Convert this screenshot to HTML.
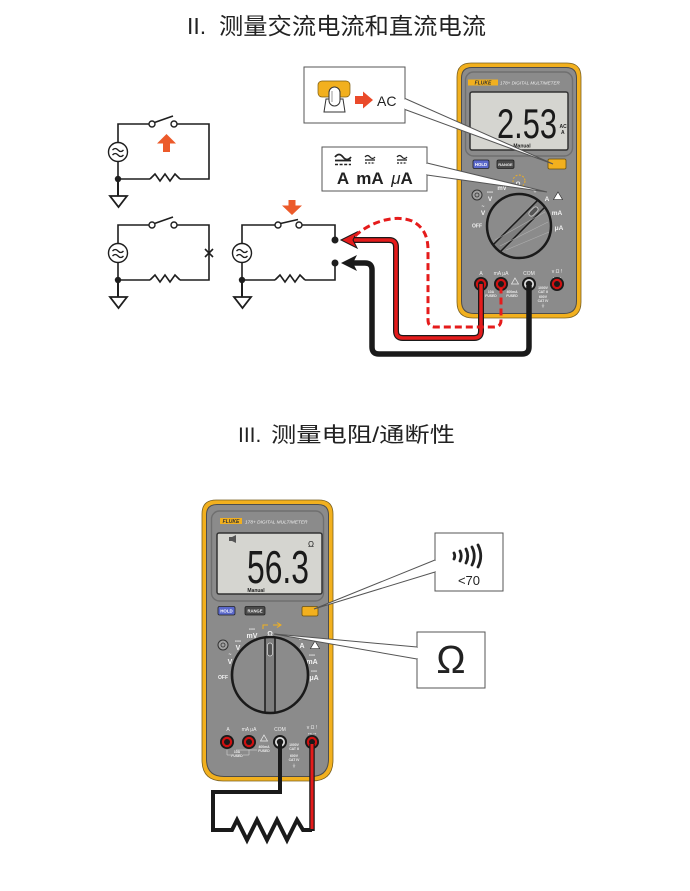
<!DOCTYPE html>
<html><head><meta charset="utf-8">
<style>
html,body{margin:0;padding:0;background:#fff;}
svg{display:block;}
text{font-family:"Liberation Sans","Noto Sans CJK SC",sans-serif;}
</style></head><body>
<svg width="690" height="891" viewBox="0 0 690 891" xmlns="http://www.w3.org/2000/svg">
<rect width="690" height="891" fill="#fff"/>

<!-- ============ TITLES ============ -->
<text x="187" y="34" font-size="23" fill="#222">II.</text>
<text x="219" y="34" font-size="23" fill="#222" textLength="267" lengthAdjust="spacingAndGlyphs">测量交流电流和直流电流</text>
<text x="238" y="442" font-size="21" fill="#222">III.</text>
<text x="271" y="442" font-size="21" fill="#222" textLength="184" lengthAdjust="spacingAndGlyphs">测量电阻/通断性</text>

<!-- ============ CIRCUITS ============ -->
<g fill="none" stroke="#1e1e1e" stroke-width="1.6" stroke-linejoin="miter">
  <!-- circuit 1 -->
  <path d="M118,142.5 V124 H149 M177,124 H209 V179 H180 M150,179 H118 V161.5"/>
  <path d="M150,179 l5,-5 l5,7 l5,-7 l5,7 l5,-7 l5,5"/>
  <path d="M154.5,122.5 L173,116"/>
  <path d="M118,179 V196" stroke-width="2"/>
  <!-- circuit 2 -->
  <path d="M118,243.5 V225 H149 M177,225 H209 V280 H180 M150,280 H118 V262.5"/>
  <path d="M150,280 l5,-5 l5,7 l5,-7 l5,7 l5,-7 l5,5"/>
  <path d="M154.5,223.5 L173,217"/>
  <path d="M205,249 L213,257 M205,257 L213,249"/>
  <path d="M118,280 V297" stroke-width="2"/>
  <!-- circuit 3 -->
  <path d="M242,243.5 V225 H275 M302,225 H335 V240 M335,263 V280 H305 M275,280 H242 V262.5"/>
  <path d="M275,280 l5,-5 l5,7 l5,-7 l5,7 l5,-7 l5,5"/>
  <path d="M280.5,223.5 L298,219.5"/>
  <path d="M242,280 V297" stroke-width="2"/>
</g>
<g fill="#fff" stroke="#1e1e1e" stroke-width="1.4">
  <circle cx="152" cy="124" r="3"/><circle cx="174" cy="124" r="3"/>
  <circle cx="152" cy="225" r="3"/><circle cx="174" cy="225" r="3"/>
  <circle cx="278" cy="225" r="3"/><circle cx="299" cy="225" r="3"/>
  <circle cx="118" cy="152" r="9.5"/>
  <circle cx="118" cy="253" r="9.5"/>
  <circle cx="242" cy="253" r="9.5"/>
  <polygon points="110,196 127,196 118.5,207" stroke-width="1.8"/>
  <polygon points="110,297 127,297 118.5,308" stroke-width="1.8"/>
  <polygon points="234,297 251,297 242.5,308" stroke-width="1.8"/>
</g>
<g fill="none" stroke="#1e1e1e" stroke-width="1.3">
  <path d="M112.5,150 q2.75,-3 5.5,0 t5.5,0 M112.5,155 q2.75,-3 5.5,0 t5.5,0"/>
  <path d="M112.5,251 q2.75,-3 5.5,0 t5.5,0 M112.5,256 q2.75,-3 5.5,0 t5.5,0"/>
  <path d="M236.5,251 q2.75,-3 5.5,0 t5.5,0 M236.5,256 q2.75,-3 5.5,0 t5.5,0"/>
</g>
<g fill="#1e1e1e">
  <circle cx="118" cy="179" r="3.2"/>
  <circle cx="118" cy="280" r="3.2"/>
  <circle cx="242" cy="280" r="3.2"/>
  <circle cx="335" cy="240" r="3.5"/>
  <circle cx="335" cy="263" r="3.5"/>
</g>
<polygon points="166.5,134 176,143.5 170,143.5 170,152 163,152 163,143.5 157,143.5" fill="#ec5a2a"/>
<polygon points="292,215 302,205.5 295.5,205.5 295.5,200 288.5,200 288.5,205.5 282,205.5" fill="#ec5a2a"/>

<!-- ============ TOP METER ============ -->
<path d="M471,63 H567 Q581,63 581,77 V302 Q581,318 565,318 H473 Q457,318 457,302 V77 Q457,63 471,63 Z" fill="#f2b01e" stroke="#7a6020" stroke-width="0.8"/>
<path d="M472,67.5 H566 Q576.5,67.5 576.5,78 V301 Q576.5,313.5 564,313.5 H474 Q461.5,313.5 461.5,301 V78 Q461.5,67.5 472,67.5 Z" fill="#8b8b8b" stroke="#4d4d4d" stroke-width="1"/>
<rect x="465.5" y="72" width="107" height="84" rx="8" fill="none" stroke="#6f6f6f" stroke-width="1.4"/>
<rect x="468" y="79.5" width="30" height="6" fill="#f2b01e"/>
<text x="483" y="84.5" font-size="5" font-weight="bold" fill="#333" text-anchor="middle" font-style="italic">FLUKE</text>
<text x="500" y="84.5" font-size="4.6" fill="#eeeeee" font-style="italic">178+ DIGITAL MULTIMETER</text>
<rect x="470" y="92" width="98" height="58" rx="2" fill="#d5d5d0" stroke="#333" stroke-width="1.5"/>
<text x="497" y="138" font-size="42" fill="#1a1a1a" textLength="60" lengthAdjust="spacingAndGlyphs">2.53</text>
<text x="559.5" y="128" font-size="5" font-weight="bold" fill="#222">AC</text>
<text x="561" y="134" font-size="5" font-weight="bold" fill="#222">A</text>
<text x="522" y="147.5" font-size="5" font-weight="bold" fill="#222" text-anchor="middle">Manual</text>
<!-- buttons -->
<rect x="473" y="160" width="16" height="8.5" rx="1.5" fill="#5b69cc" stroke="#222" stroke-width="0.8"/>
<text x="481" y="166" font-size="4.3" font-weight="bold" fill="#fff" text-anchor="middle">HOLD</text>
<rect x="497" y="160" width="17" height="8.5" rx="1.5" fill="#4a4a4a" stroke="#222" stroke-width="0.8"/>
<text x="505.5" y="166" font-size="4" font-weight="bold" fill="#eee" text-anchor="middle">RANGE</text>
<rect x="548" y="159" width="18" height="10" rx="1.5" fill="#f2b01e" stroke="#6a5010" stroke-width="0.8"/>
<!-- dial labels -->
<circle cx="477" cy="195" r="5" fill="#a0a0a0" stroke="#333" stroke-width="1"/>
<circle cx="477" cy="195" r="2" fill="none" stroke="#333" stroke-width="0.8"/>
<g fill="#f2f2f2" font-weight="bold" text-anchor="middle">
  <text x="490" y="201" font-size="6.5">V</text>
  <text x="490" y="193" font-size="3.5">===</text>
  <text x="483" y="215" font-size="6.5">V</text>
  <text x="483" y="208" font-size="5">~</text>
  <text x="477" y="227.5" font-size="5">OFF</text>
  <text x="502" y="190" font-size="6">mV</text>
  <text x="518" y="186" font-size="6">Ω</text>
  <text x="535" y="193" font-size="6">+</text>
  <text x="547" y="201" font-size="6.5">A</text>
  <text x="557" y="215" font-size="6.5">mA</text>
  <text x="559" y="230" font-size="6.5">μA</text>
</g>
<circle cx="519" cy="181" r="6" fill="none" stroke="#f2b01e" stroke-width="0.9" stroke-dasharray="2,1.5"/>
<polygon points="558,192 562.5,199.5 553.5,199.5" fill="#fff" stroke="#222" stroke-width="0.6"/>
<!-- dial -->
<clipPath id="d1"><circle cx="519" cy="226" r="32"/></clipPath>
<circle cx="519" cy="226" r="32" fill="#8b8b8b"/>
<g clip-path="url(#d1)">
  <g transform="rotate(-45 519 226)">
    <rect x="485" y="221" width="68" height="10" fill="#7e7e7e" stroke="#1a1a1a" stroke-width="1.5"/>
    <rect x="534" y="223.5" width="11" height="5" rx="2.5" fill="#555" stroke="#ddd" stroke-width="0.7"/>
  </g>
  <path d="M495,240 L545,212 M500,246 L548,222 M506,250 L549,232" stroke="#bdbdbd" stroke-width="0.6" fill="none" opacity="0.7"/>
</g>
<circle cx="519" cy="226" r="32" fill="none" stroke="#1a1a1a" stroke-width="2.5"/>
<!-- jack labels -->
<g fill="#eee" font-size="5" text-anchor="middle">
  <text x="481" y="275">A</text>
  <text x="501" y="275">mA μA</text>
  <text x="529" y="275">COM</text>
  <text x="557" y="273">v Ω !</text>
  <text x="557" y="279" font-size="4">⊶ ⊸</text>
</g>
<g fill="#eee" font-size="3.4" font-weight="bold" text-anchor="middle">
  <text x="491" y="293">10A</text><text x="491" y="297">FUSED</text>
  <text x="512" y="293">400mA</text><text x="512" y="297">FUSED</text>
  <text x="543" y="289">1000V</text><text x="543" y="293">CAT II</text>
  <text x="543" y="298">600V</text><text x="543" y="302">CAT IV</text>
  <text x="543" y="307" font-size="4">⏚</text>
</g>
<polygon points="515,278 518.5,284 511.5,284" fill="none" stroke="#eee" stroke-width="0.7"/>
<!-- jacks -->
<circle cx="481" cy="284" r="7" fill="#1a1a1a"/><circle cx="481" cy="284" r="5.2" fill="#d01010"/><circle cx="481" cy="284" r="3" fill="#1a1a1a"/>
<circle cx="501" cy="284" r="7" fill="#1a1a1a"/><circle cx="501" cy="284" r="5.2" fill="#d01010"/><circle cx="501" cy="284" r="3" fill="#1a1a1a"/>
<circle cx="529" cy="284" r="7" fill="#1a1a1a"/><circle cx="529" cy="284" r="5" fill="#ddd"/><circle cx="529" cy="284" r="3.2" fill="#1a1a1a"/>
<circle cx="557" cy="284" r="7" fill="#1a1a1a"/><circle cx="557" cy="284" r="5.2" fill="#d01010"/><circle cx="557" cy="284" r="3" fill="#1a1a1a"/>

<!-- top wires -->
<path d="M481,284 V331 Q481,338 474,338 H403 Q396,338 396,331 V247 Q396,240 389,240 H352" fill="none" stroke="#1a1a1a" stroke-width="6"/>
<path d="M481,284 V331 Q481,338 474,338 H403 Q396,338 396,331 V247 Q396,240 389,240 H352" fill="none" stroke="#e51b1b" stroke-width="3.5"/>
<polygon points="341,240 357,232 353,240 357,248" fill="#e51b1b" stroke="#1a1a1a" stroke-width="1"/>
<path d="M529,286 V347 Q529,354 522,354 H379 Q372,354 372,347 V270 Q372,263 365,263 H352" fill="none" stroke="#1a1a1a" stroke-width="5.5"/>
<polygon points="341,263 357,255 353,263 357,271" fill="#1a1a1a"/>
<path d="M355,236 C370,222 395,214 412,221 C424,227 428,237 428,250 V320 Q428,327 435,327 H494 Q501,327 501,320 V288" fill="none" stroke="#e51b1b" stroke-width="3" stroke-dasharray="7,4"/>

<!-- top callouts -->
<rect x="304" y="67" width="101" height="56" fill="#fff" stroke="#555" stroke-width="1"/>
<polyline points="405,98.5 553,164 405,109.5" fill="#fff" stroke="#555" stroke-width="1"/>
<line x1="405" y1="99.5" x2="405" y2="108.5" stroke="#fff" stroke-width="2.5"/>
<rect x="318" y="81" width="32" height="16" rx="4" fill="#f2b01e" stroke="#7a5a10" stroke-width="0.7"/>
<path d="M324,112 L326,99 L343,99 L345,112 Z" fill="#fff" stroke="#333" stroke-width="1"/>
<rect x="329" y="87" width="11" height="19" rx="5.5" fill="#fff" stroke="#333" stroke-width="1"/>
<path d="M332,91 V102" stroke="#bbb" stroke-width="1.5"/>
<polygon points="355,96 363,96 363,91.5 373,100 363,108.5 363,104 355,104" fill="#ea4a2a"/>
<text x="377" y="106" font-size="14" fill="#222">AC</text>

<rect x="322" y="147" width="105" height="44" fill="#fff" stroke="#555" stroke-width="1"/>
<polyline points="427,163 547,192 427,175" fill="#fff" stroke="#555" stroke-width="1"/>
<line x1="427" y1="164" x2="427" y2="174" stroke="#fff" stroke-width="2.5"/>
<g fill="none" stroke="#222">
  <path d="M335,157 q4,-5 8,0 t8,0" stroke-width="1.8"/>
  <path d="M335,160.5 H351" stroke-width="1.8"/>
  <path d="M335,164.5 H351" stroke-width="1.6" stroke-dasharray="3,1.6"/>
  <path d="M365,157 q2.5,-3 5,0 t5,0" stroke-width="1.3"/>
  <path d="M365,160 H375" stroke-width="1.3"/>
  <path d="M365,163 H375" stroke-width="1.2" stroke-dasharray="2,1.3"/>
  <path d="M397,157 q2.5,-3 5,0 t5,0" stroke-width="1.3"/>
  <path d="M397,160 H407" stroke-width="1.3"/>
  <path d="M397,163 H407" stroke-width="1.2" stroke-dasharray="2,1.3"/>
</g>
<text x="343" y="184" font-size="17" font-weight="bold" fill="#222" text-anchor="middle">A</text>
<text x="370" y="184" font-size="17" font-weight="bold" fill="#222" text-anchor="middle">mA</text>
<text x="402" y="184" font-size="17" font-weight="bold" fill="#222" text-anchor="middle"><tspan font-style="italic" font-weight="normal">μ</tspan>A</text>

<!-- ============ BOTTOM METER ============ -->
<path d="M216,500 H319 Q333,500 333,514 V760 Q333,781 312,781 H223 Q202,781 202,760 V514 Q202,500 216,500 Z" fill="#f2b01e" stroke="#7a6020" stroke-width="0.8"/>
<path d="M217,504.5 H318 Q328.5,504.5 328.5,515 V759 Q328.5,776.5 311,776.5 H224 Q206.5,776.5 206.5,759 V515 Q206.5,504.5 217,504.5 Z" fill="#8b8b8b" stroke="#4d4d4d" stroke-width="1"/>
<rect x="211.5" y="511" width="112" height="90" rx="8" fill="none" stroke="#6f6f6f" stroke-width="1.4"/>
<rect x="220" y="518" width="22" height="6" fill="#f2b01e"/>
<text x="231" y="523" font-size="5" font-weight="bold" fill="#333" text-anchor="middle" font-style="italic">FLUKE</text>
<text x="245" y="523.3" font-size="4.8" fill="#eeeeee" font-style="italic">178+ DIGITAL MULTIMETER</text>
<rect x="217" y="533" width="105" height="61" rx="2" fill="#d5d5d0" stroke="#333" stroke-width="1.5"/>
<rect x="229" y="537" width="3" height="4" fill="#555"/><polygon points="232,537 236,535 236,543 232,541" fill="#555"/>
<text x="247" y="583" font-size="46" fill="#1a1a1a" textLength="62" lengthAdjust="spacingAndGlyphs">56.3</text>
<text x="311" y="547" font-size="8" fill="#222" text-anchor="middle">Ω</text>
<text x="256" y="592" font-size="5" font-weight="bold" fill="#222" text-anchor="middle">Manual</text>
<!-- buttons -->
<rect x="218" y="606.5" width="17" height="8.5" rx="1.5" fill="#5b69cc" stroke="#222" stroke-width="0.8"/>
<text x="226.5" y="612.6" font-size="4.4" font-weight="bold" fill="#fff" text-anchor="middle">HOLD</text>
<rect x="245" y="606.5" width="20" height="8.5" rx="1.5" fill="#4a4a4a" stroke="#222" stroke-width="0.8"/>
<text x="255" y="612.6" font-size="4.2" font-weight="bold" fill="#eee" text-anchor="middle">RANGE</text>
<rect x="302" y="606.5" width="16" height="9.5" rx="1.5" fill="#f2b01e" stroke="#6a5010" stroke-width="0.8"/>
<!-- dial labels -->
<circle cx="223" cy="645" r="5" fill="#a0a0a0" stroke="#333" stroke-width="1"/>
<circle cx="223" cy="645" r="2" fill="none" stroke="#333" stroke-width="0.8"/>
<g fill="#f2f2f2" font-weight="bold" text-anchor="middle">
  <text x="238" y="650" font-size="7">V</text>
  <text x="238" y="642" font-size="3.5">===</text>
  <text x="230" y="664" font-size="7">V</text>
  <text x="230" y="656" font-size="5">~</text>
  <text x="223" y="679" font-size="5">OFF</text>
  <text x="252" y="638" font-size="7">mV</text>
  <text x="252" y="630" font-size="3.5">===</text>
  <text x="270" y="636" font-size="7">Ω</text>
  <text x="302" y="648" font-size="7">A</text>
  <text x="302" y="640" font-size="3.5">===</text>
  <text x="312" y="664" font-size="7">mA</text>
  <text x="312" y="656" font-size="3.5">===</text>
  <text x="314" y="680" font-size="7">μA</text>
  <text x="314" y="672" font-size="3.5">===</text>
</g>
<path d="M263,629 V625 H268 M273,625 H281 M277,622.5 L281,625 L277,627.5" fill="none" stroke="#f2b01e" stroke-width="1"/>
<polygon points="315,641 319.5,648.5 310.5,648.5" fill="#fff" stroke="#222" stroke-width="0.6"/>
<!-- dial -->
<clipPath id="d2"><circle cx="270" cy="675" r="38"/></clipPath>
<circle cx="270" cy="675" r="38" fill="#8b8b8b"/>
<g clip-path="url(#d2)">
  <rect x="265" y="635" width="10" height="82" fill="#7e7e7e" stroke="#1a1a1a" stroke-width="1.5"/>
  <rect x="267.5" y="643" width="5" height="13" rx="2.5" fill="#555" stroke="#ddd" stroke-width="0.7"/>
</g>
<circle cx="270" cy="675" r="38" fill="none" stroke="#1a1a1a" stroke-width="2.6"/>
<!-- jack labels -->
<g fill="#eee" font-size="5" text-anchor="middle">
  <text x="228" y="731">A</text>
  <text x="249" y="731">mA μA</text>
  <text x="280" y="731">COM</text>
  <text x="312" y="729">v Ω !</text>
  <text x="312" y="735" font-size="4">⊶ ⊸</text>
</g>
<g fill="#eee" font-size="3.4" font-weight="bold" text-anchor="middle">
  <text x="237" y="753">10A</text><text x="237" y="757">FUSED</text>
  <text x="264" y="748">400mA</text><text x="264" y="752">FUSED</text>
  <text x="294" y="746">1000V</text><text x="294" y="750">CAT II</text>
  <text x="294" y="757">600V</text><text x="294" y="761">CAT IV</text>
  <text x="294" y="767" font-size="4">⏚</text>
</g>
<polygon points="264,735 267.5,741 260.5,741" fill="none" stroke="#eee" stroke-width="0.7"/>
<path d="M227,750 V755 H231 M243,755 H249 V750 M236,750 H257" fill="none" stroke="#ddd" stroke-width="0.5"/>
<!-- jacks -->
<circle cx="227" cy="742" r="7" fill="#1a1a1a"/><circle cx="227" cy="742" r="5.2" fill="#d01010"/><circle cx="227" cy="742" r="3" fill="#1a1a1a"/>
<circle cx="249" cy="742" r="7" fill="#1a1a1a"/><circle cx="249" cy="742" r="5.2" fill="#d01010"/><circle cx="249" cy="742" r="3" fill="#1a1a1a"/>
<circle cx="280" cy="742" r="7" fill="#1a1a1a"/><circle cx="280" cy="742" r="5" fill="#ddd"/><circle cx="280" cy="742" r="3.2" fill="#1a1a1a"/>
<circle cx="312" cy="742" r="7" fill="#1a1a1a"/><circle cx="312" cy="742" r="5.2" fill="#d01010"/><circle cx="312" cy="742" r="3" fill="#1a1a1a"/>

<!-- bottom wires -->
<path d="M280,744 V792 H213 V830 H232 L237,820 L247,840 L257,820 L267,840 L277,820 L287,840 L297,820 L303,830 H312" fill="none" stroke="#1a1a1a" stroke-width="4" stroke-linejoin="miter"/>
<path d="M312,744 V831" fill="none" stroke="#1a1a1a" stroke-width="5.5"/>
<path d="M312,744 V829" fill="none" stroke="#e51b1b" stroke-width="3"/>

<!-- bottom callouts -->
<rect x="435" y="533" width="68" height="58" fill="#fff" stroke="#555" stroke-width="1"/>
<polyline points="435,560 314,609 435,572" fill="#fff" stroke="#555" stroke-width="1"/>
<line x1="435" y1="561" x2="435" y2="571" stroke="#fff" stroke-width="2.5"/>
<g fill="none" stroke="#222" stroke-width="2.8" stroke-linecap="round">
  <path d="M454,553 Q455.5,556 454,559"/>
  <path d="M460,551 Q462.5,556 460,561"/>
  <path d="M466,549 Q469.5,556 466,563"/>
  <path d="M472,547 Q476.5,556 472,565"/>
  <path d="M478,545 Q483.5,556 478,567"/>
</g>
<text x="469" y="585" font-size="13" fill="#222" text-anchor="middle">&lt;70</text>

<rect x="417" y="632" width="68" height="56" fill="#fff" stroke="#555" stroke-width="1"/>
<polyline points="417,647 274,634 417,659" fill="#fff" stroke="#555" stroke-width="1"/>
<line x1="417" y1="648" x2="417" y2="658" stroke="#fff" stroke-width="2.5"/>
<text x="451" y="673" font-size="39" fill="#222" text-anchor="middle">Ω</text>
</svg>
</body></html>
